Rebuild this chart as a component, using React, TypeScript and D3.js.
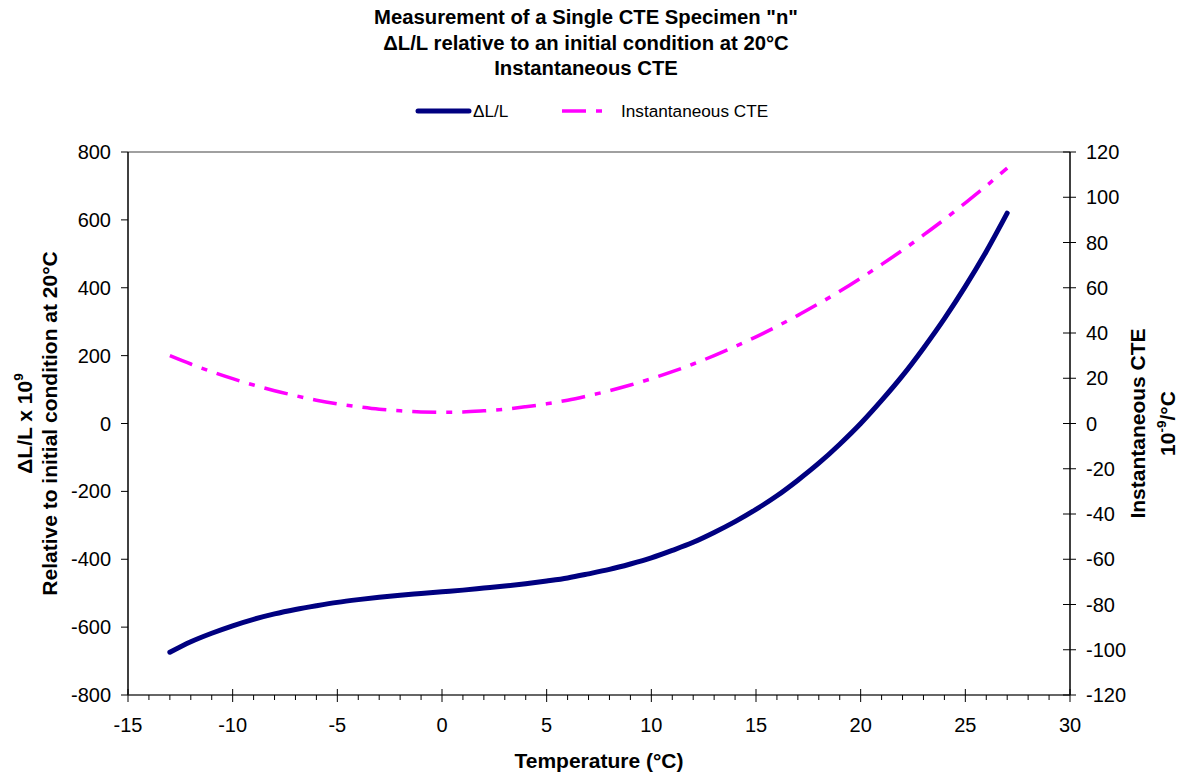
import React from 'react';
import * as d3 from 'd3';

// data
const temps = [-13, -12, -11, -10, -9, -8, -7, -6, -5, -4, -3, -2, -1, 0, 1, 2, 3, 4, 5, 6, 7, 8, 9, 10,
  11, 12, 13, 14, 15, 16, 17, 18, 19, 20, 21, 22, 23, 24, 25, 26, 27];
const dLL = [-674, -643, -618, -596, -577, -561, -548, -537, -527, -519, -512, -506, -501, -496, -491, -485,
  -479, -472, -464, -455, -443, -430, -414, -396, -374, -350, -321, -289, -253, -213, -167, -117, -61, 0,
  68, 141, 222, 309, 404, 507, 620];
const cte = [30, 26.3, 22.9, 19.8, 17, 14.5, 12.3, 10.3, 8.7, 7.4, 6.3, 5.6, 5.1, 5, 5.1, 5.6, 6.3, 7.4, 8.7,
  10.3, 12.3, 14.5, 17, 19.8, 22.9, 26.3, 30, 34, 38.3, 42.9, 47.8, 53, 58.4, 64.2, 70.3, 76.6, 83.3, 90.2,
  97.5, 105, 112.9];
const xTicks = [-15, -10, -5, 0, 5, 10, 15, 20, 25, 30];
const leftTicks = [800, 600, 400, 200, 0, -200, -400, -600, -800];
const rightTicks = [120, 100, 80, 60, 40, 20, 0, -20, -40, -60, -80, -100, -120];
const titleLines = ['Measurement of a Single CTE Specimen "n"', '\u0394L/L relative to an initial condition at 20\u00b0C', 'Instantaneous CTE'];

const W = 1183, H = 774;
const left = 128, right = 1070, top = 152, bottom = 695;
const font = 'Arial, "Liberation Sans", sans-serif';

const x = d3.scaleLinear().domain([-15, 30]).range([left, right]);
const yL = d3.scaleLinear().domain([-800, 800]).range([bottom, top]);
const yR = d3.scaleLinear().domain([-120, 120]).range([bottom, top]);
const minor = d3.range(-15, 31, 1);

export default function App() {
  const pts = temps.map((t, i) => ({ t, a: dLL[i], b: cte[i] }));
  const lineA = d3.line<any>().x(d => x(d.t)).y(d => yL(d.a)).curve(d3.curveMonotoneX)(pts) || '';
  const lineB = d3.line<any>().x(d => x(d.t)).y(d => yR(d.b)).curve(d3.curveMonotoneX)(pts) || '';
  const midY = (top + bottom) / 2;

  return (
    <div style={{ position: 'absolute', left: 0, top: 0 }}>
      <svg width={W} height={H} style={{ display: 'block', fontFamily: font }}>
        <rect width={W} height={H} fill="#fff" />
        {/* title */}
        {titleLines.map((s, i) => (
          <text key={i} x={586} y={24 + i * 25.5} textAnchor="middle" fontSize={20.3} fontWeight="bold">{s}</text>
        ))}
        {/* legend */}
        <line x1={418} x2={469} y1={111} y2={111} stroke="#000080" strokeWidth={5} strokeLinecap="round" />
        <text x={473} y={117} fontSize={17.2}>{'\u0394L/L'}</text>
        <line x1={562} x2={606} y1={111} y2={111} stroke="#ff00ff" strokeWidth={3.5} strokeDasharray="24,10,6,10" />
        <text x={621} y={117} fontSize={17.2}>Instantaneous CTE</text>

        {/* frame */}
        <line x1={left} x2={right} y1={top} y2={top} stroke="#808080" strokeWidth={1.5} />
        <line x1={left} x2={left} y1={top} y2={bottom} stroke="#000" strokeWidth={1.5} />
        <line x1={right} x2={right} y1={top} y2={bottom} stroke="#000" strokeWidth={1.5} />
        <line x1={left} x2={right} y1={bottom} y2={bottom} stroke="#333" strokeWidth={1.5} />

        {/* x axis */}
        {minor.map(t => (
          <line key={'m' + t} x1={x(t)} x2={x(t)} y1={t % 5 === 0 ? bottom - 6 : bottom} y2={bottom + (t % 5 === 0 ? 7 : 5)} stroke="#000" strokeWidth={1} />
        ))}
        {xTicks.map(t => (
          <text key={t} x={x(t)} y={732} textAnchor="middle" fontSize={20}>{t}</text>
        ))}
        <text x={(left + right) / 2} y={768} textAnchor="middle" fontSize={21} fontWeight="bold">Temperature (°C)</text>

        {/* left axis */}
        {leftTicks.map(v => (
          <g key={v}>
            <line x1={left - 7} x2={left} y1={yL(v)} y2={yL(v)} stroke="#000" />
            <text x={111} y={yL(v)} dy="0.35em" textAnchor="end" fontSize={20}>{v}</text>
          </g>
        ))}
        <text transform={`translate(32,${midY}) rotate(-90)`} textAnchor="middle" fontSize={21} fontWeight="bold">
          {'\u0394L/L x 10'}<tspan fontSize={13.5} dy={-9}>9</tspan>
        </text>
        <text transform={`translate(57,${midY}) rotate(-90)`} textAnchor="middle" fontSize={21} fontWeight="bold">
          Relative to initial condition at 20°C
        </text>

        {/* right axis */}
        {rightTicks.map(v => (
          <g key={v}>
            <line x1={right - 7} x2={right + 6} y1={yR(v)} y2={yR(v)} stroke="#000" />
            <text x={1086} y={yR(v)} dy="0.35em" textAnchor="start" fontSize={20}>{v}</text>
          </g>
        ))}
        <text transform={`translate(1145,${midY}) rotate(-90)`} textAnchor="middle" fontSize={21} fontWeight="bold">
          Instantaneous CTE
        </text>
        <text transform={`translate(1175,${midY}) rotate(-90)`} textAnchor="middle" fontSize={21} fontWeight="bold">
          10<tspan fontSize={13.5} dy={-9}>-9</tspan><tspan dy={9}>/°C</tspan>
        </text>

        {/* series */}
        <path d={lineB} fill="none" stroke="#ff00ff" strokeWidth={3.5} strokeDasharray="24,10,6,10" />
        <path d={lineA} fill="none" stroke="#000080" strokeWidth={5} strokeLinecap="round" />
      </svg>
    </div>
  );
}
